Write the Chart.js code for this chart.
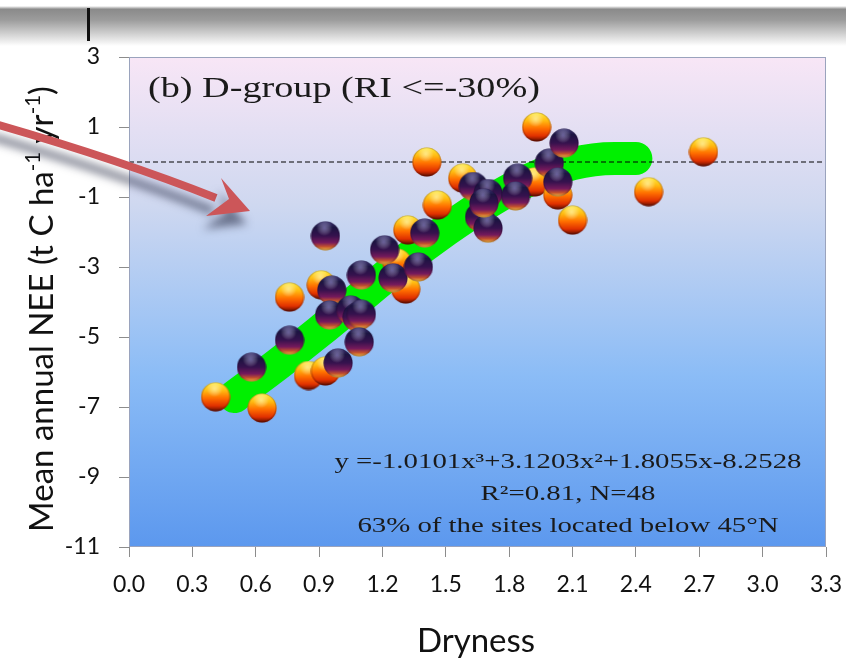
<!DOCTYPE html>
<html>
<head>
<meta charset="utf-8">
<script src="https://cdn.jsdelivr.net/npm/chart.js@4.4.1/dist/chart.umd.min.js"></script>
<style>
	body { margin: 0; background: #fff; }
	#wrap { position: relative; width: 846px; height: 661px; }
</style>
</head>
<body>
<div id="wrap"><canvas id="myChart"></canvas></div>
<script>
// ***** DATA *****
const xTicks = [0.0, 0.3, 0.6, 0.9, 1.2, 1.5, 1.8, 2.1, 2.4, 2.7, 3.0, 3.3]
const yTicks = [-11, -9, -7, -5, -3, -1, 1, 3]

// orange sites
const orangeX = [0.41, 0.63, 0.76, 0.85, 0.93, 0.91, 1.27, 1.31, 1.32, 1.41, 1.46, 1.58, 1.92, 1.93, 2.03, 2.10, 2.46, 2.72]
const orangeY = [-6.71, -7.03, -3.86, -6.10, -5.97, -3.51, -2.89, -3.63, -1.94, 0.00, -1.23, -0.46, -0.57, 1.00, -0.94, -1.66, -0.85, 0.29]

// dark sites
const darkX = [0.58, 0.76, 0.93, 0.96, 0.95, 1.05, 1.08, 1.10, 1.09, 0.99, 1.10, 1.21, 1.25, 1.37, 1.40, 1.63, 1.70, 1.66, 1.70, 1.68, 1.84, 1.83, 1.99, 2.06, 2.03]
const darkY = [-5.86, -5.09, -2.11, -3.66, -4.37, -4.23, -4.43, -4.35, -5.14, -5.74, -3.23, -2.51, -3.31, -3.00, -2.03, -0.70, -0.90, -1.57, -1.89, -1.17, -0.46, -0.97, -0.03, 0.54, -0.57]

// green fit band
const fitX = [0.5, 0.7, 0.9, 1.1, 1.3, 1.5, 1.7, 1.9, 2.1, 2.3, 2.4]
const fitY = [-6.7, -5.8, -4.85, -3.85, -2.85, -1.95, -1.15, -0.5, -0.05, 0.1, 0.1]

const zeroX = [0, 3.3]
const zeroY = [0, 0]

const titleText = '(b) D-group (RI <=-30%)'
const noteLines = ['y =-1.0101x\u00b3+3.1203x\u00b2+1.8055x-8.2528', 'R\u00b2=0.81, N=48', '63% of the sites located below 45\u00b0N']

function pts(xs, ys) {
	return xs.map((x, i) => ({ x: x, y: ys[i] }))
}

// ***** BALL IMAGES *****
function makeBall(stops, gloss, rim) {
	let c = document.createElement('canvas')
	c.width = 30
	c.height = 30
	let g = c.getContext('2d')
	let lin = g.createLinearGradient(0, 1, 0, 29)
	stops.forEach(s => lin.addColorStop(s[0], s[1]))
	g.beginPath()
	g.arc(15, 15, 14.5, 0, Math.PI * 2)
	g.fillStyle = lin
	g.fill()
	// darker edge
	let edge = g.createRadialGradient(15, 13, 6, 15, 15, 15)
	edge.addColorStop(0, 'rgba(0,0,0,0)')
	edge.addColorStop(0.75, 'rgba(0,0,0,0)')
	edge.addColorStop(1, rim)
	g.fillStyle = edge
	g.fill()
	// gloss
	let rad = g.createRadialGradient(14, 7, 0, 14, 7, 8)
	rad.addColorStop(0, gloss)
	rad.addColorStop(1, 'rgba(255,255,255,0)')
	g.fillStyle = rad
	g.fill()
	return c
}

const orangeBall = makeBall([
	[0, '#ffe83a'], [0.28, '#ffba10'], [0.55, '#ff6e00'], [0.82, '#e03000'], [1, '#6a1000']
], 'rgba(255,255,200,0.6)', 'rgba(90,10,0,0.45)')

const darkBall = makeBall([
	[0, '#3a3270'], [0.2, '#1c1442'], [0.5, '#36124e'], [0.74, '#761a5c'], [0.88, '#c2502e'], [1, '#f2b440']
], 'rgba(170,160,230,0.55)', 'rgba(20,0,30,0.35)')

// ***** DECORATION PLUGIN *****
function fitScaleX(ctx, text, target) {
	return target / ctx.measureText(text).width
}

const decor = {
	id: 'decor',
	beforeDraw(chart) {
		let ctx = chart.ctx
		let a = chart.chartArea
		ctx.save()
		ctx.fillStyle = '#fff'
		ctx.fillRect(0, 0, chart.width, chart.height)
		// grey band at the top
		let band = ctx.createLinearGradient(0, 6, 0, 46)
		band.addColorStop(0, 'rgba(255,255,255,1)')
		band.addColorStop(0.08, '#8a8a8a')
		band.addColorStop(0.35, '#9c9c9c')
		band.addColorStop(1, 'rgba(255,255,255,1)')
		ctx.fillStyle = band
		ctx.fillRect(0, 6, chart.width, 40)
		ctx.fillStyle = '#111'
		ctx.fillRect(87, 8, 3, 33)
		// plot background
		let bg = ctx.createLinearGradient(0, a.top, 0, a.bottom)
		bg.addColorStop(0, '#f8e6f6')
		bg.addColorStop(0.3, '#cfd8f0')
		bg.addColorStop(0.65, '#8bbcf6')
		bg.addColorStop(1, '#5c98ee')
		ctx.fillStyle = bg
		ctx.fillRect(a.left, a.top, a.right - a.left, a.bottom - a.top)
		ctx.restore()
	},
	afterDraw(chart) {
		let ctx = chart.ctx
		let a = chart.chartArea
		ctx.save()
		ctx.strokeStyle = '#9aa3bd'
		ctx.lineWidth = 1
		ctx.strokeRect(a.left + 0.5, a.top + 0.5, a.right - a.left - 1, a.bottom - a.top - 1)

		// panel title
		ctx.fillStyle = '#1a1a1a'
		ctx.font = '29px "Liberation Serif"'
		ctx.textBaseline = 'alphabetic'
		ctx.textAlign = 'left'
		let sx = fitScaleX(ctx, titleText, 392)
		ctx.save()
		ctx.translate(148, 97)
		ctx.scale(sx, 1)
		ctx.fillText(titleText, 0, 0)
		ctx.restore()

		// equation box text
		ctx.font = '21px "Liberation Serif"'
		ctx.textAlign = 'center'
		let nx = fitScaleX(ctx, noteLines[0], 467)
		let baselines = [468, 500, 532]
		noteLines.forEach((t, i) => {
			ctx.save()
			ctx.translate(568, baselines[i])
			ctx.scale(nx, 1)
			ctx.fillText(t, 0, 0)
			ctx.restore()
		})

		// y axis title with superscripts
		let parts = [['Mean annual NEE (t C ha', 0], ['-1', 1], [' yr', 0], ['-1', 1], [')', 0]]
		let base = 28
		let widthAt = f => parts.reduce((w, p) => {
			ctx.font = (p[1] ? f * 0.62 : f) + 'px Lato'
			return w + ctx.measureText(p[0]).width
		}, 0)
		let fs = base * 446 / widthAt(base)
		let total = widthAt(fs)
		ctx.save()
		ctx.translate(53, 309)
		ctx.rotate(-Math.PI / 2)
		ctx.textAlign = 'left'
		ctx.fillStyle = '#111'
		let cx = -total / 2
		parts.forEach(p => {
			ctx.font = (p[1] ? fs * 0.62 : fs) + 'px Lato'
			ctx.fillText(p[0], cx, p[1] ? -fs * 0.4 : 0)
			cx += ctx.measureText(p[0]).width
		})
		ctx.restore()

		// x axis title
		ctx.font = fs + 'px Lato'
		ctx.textAlign = 'center'
		ctx.fillStyle = '#111'
		ctx.fillText('Dryness', 476, 652)

		// red arrow with shadow
		ctx.save()
		ctx.shadowColor = 'rgba(30,35,60,0.55)'
		ctx.shadowBlur = 9
		ctx.shadowOffsetX = -3
		ctx.shadowOffsetY = 13
		ctx.strokeStyle = '#cc5659'
		ctx.fillStyle = '#cc5659'
		ctx.lineWidth = 8
		ctx.beginPath()
		ctx.moveTo(-5, 124)
		ctx.quadraticCurveTo(120, 160, 216, 198)
		ctx.stroke()
		ctx.beginPath()
		ctx.moveTo(250, 211)
		ctx.lineTo(221, 178)
		ctx.lineTo(229, 199)
		ctx.lineTo(206, 216)
		ctx.closePath()
		ctx.fill()
		ctx.restore()
		ctx.restore()
	},
}

// ***** CHART *****
let ctx = document.getElementById('myChart').getContext('2d')
let myChart = new Chart(ctx, {
	type: 'scatter',
	data: {
		datasets: [
			{
				label: 'dark',
				data: pts(darkX, darkY),
				pointStyle: darkBall,
				pointRadius: 15,
			},
			{
				label: 'orange',
				data: pts(orangeX, orangeY),
				pointStyle: orangeBall,
				pointRadius: 15,
			},
			{
				label: 'zero',
				data: pts(zeroX, zeroY),
				showLine: true,
				borderColor: '#000',
				borderWidth: 1,
				borderDash: [5, 3],
				pointRadius: 0,
			},
			{
				label: 'fit',
				data: pts(fitX, fitY),
				showLine: true,
				borderColor: 'rgb(0,240,0)',
				borderWidth: 33,
				borderCapStyle: 'round',
				borderJoinStyle: 'round',
				cubicInterpolationMode: 'monotone',
				pointRadius: 0,
			},
		],
	},
	options: {
		responsive: true,
		maintainAspectRatio: false,
		animation: false,
		layout: { padding: { top: 57, right: 20, left: 0, bottom: 0 } },
		plugins: { legend: { display: false }, tooltip: { enabled: false } },
		scales: {
			x: {
				type: 'linear',
				min: 0,
				max: 3.3,
				afterBuildTicks: s => { s.ticks = xTicks.map(v => ({ value: v })) },
				afterFit: s => {
					s.height = 114
					s.paddingLeft = 0
					s.paddingRight = 0
				},
				ticks: {
					callback: v => Number(v).toFixed(1),
					font: { family: 'Lato', size: 23 },
					color: '#111',
					padding: 14,
					maxRotation: 0,
					autoSkip: false,
				},
				grid: { drawOnChartArea: false, tickLength: 10, color: '#8c8c8c' },
				border: { display: false },
			},
			y: {
				type: 'linear',
				min: -11,
				max: 3,
				afterBuildTicks: s => { s.ticks = yTicks.map(v => ({ value: v })) },
				afterFit: s => {
					s.width = 129
					s.paddingTop = 0
					s.paddingBottom = 0
				},
				ticks: {
					font: { family: 'Lato', size: 23 },
					color: '#111',
					padding: 19,
					autoSkip: false,
				},
				grid: { drawOnChartArea: false, tickLength: 10, color: '#8c8c8c' },
				border: { display: false },
			},
		},
	},
	plugins: [decor],
})
</script>
</body>
</html>
